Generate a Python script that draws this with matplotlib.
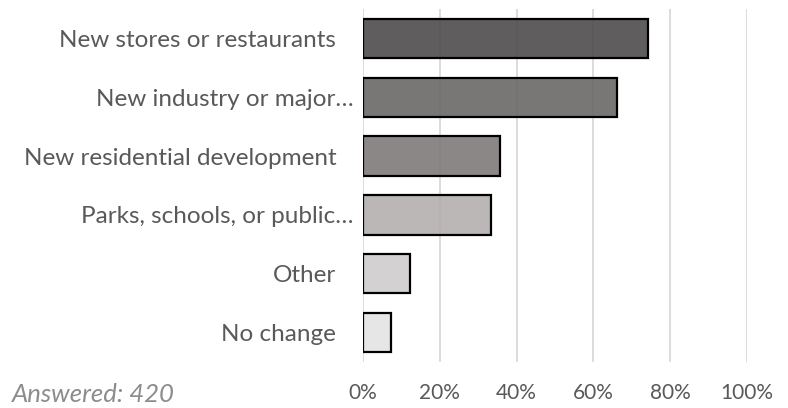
import matplotlib
matplotlib.use("Agg")
import matplotlib.pyplot as plt
import matplotlib.transforms as mtransforms
from matplotlib.colors import to_rgba

categories = [
    "New stores or restaurants",
    "New industry or major…",
    "New residential development",
    "Parks, schools, or public…",
    "Other",
    "No change",
]
shares = [74.2, 66.1, 35.6, 33.4, 12.3, 7.4]
bar_colors = ["#4a4748", "#666463", "#7c7776", "#b2adac", "#cecbcc", "#e3e3e3"]
xticks = [0, 20, 40, 60, 80, 100]
answered = 420

plt.rcParams["font.family"] = ["Lato", "DejaVu Sans"]

fig = plt.figure(figsize=(7.88, 4.08), dpi=100)
ax = fig.add_axes([363 / 788, 1 - 362 / 408, 384 / 788, 353 / 408])

ypos = list(range(len(categories)))
faces = [to_rgba(c, 0.88) for c in bar_colors]
ax.barh(ypos, shares, height=0.67, color=faces, edgecolor="black",
        linewidth=1.6, zorder=3)

ax.set_xlim(0, 100)
ax.set_ylim(len(categories) - 0.5, -0.5)
ax.set_xticks(xticks)
ax.set_xticklabels([f"{t}%" for t in xticks])
ax.set_yticks(ypos)
ax.set_yticklabels(categories)

ax.grid(axis="x", color="#d9d9d9", linewidth=1.3, zorder=0)
ax.grid(axis="y", visible=False)
for s in ax.spines.values():
    s.set_visible(False)
ax.tick_params(axis="x", length=0, pad=15, labelsize=15, labelcolor="#595959")
ax.tick_params(axis="y", length=0, pad=7, labelsize=17.5, labelcolor="#595959")

# labels without an ellipsis sit a bit further left
shift = mtransforms.ScaledTranslation(-17 / 100, 0, fig.dpi_scale_trans)
for lab in ax.get_yticklabels():
    if not lab.get_text().endswith("…"):
        lab.set_transform(lab.get_transform() + shift)

fig.text(12 / 788, 1 - 402 / 408, f"Answered: {answered}", fontsize=18.5,
         style="italic", color="#8c8c8c", ha="left", va="baseline")

fig.savefig("out.png", dpi=100)
